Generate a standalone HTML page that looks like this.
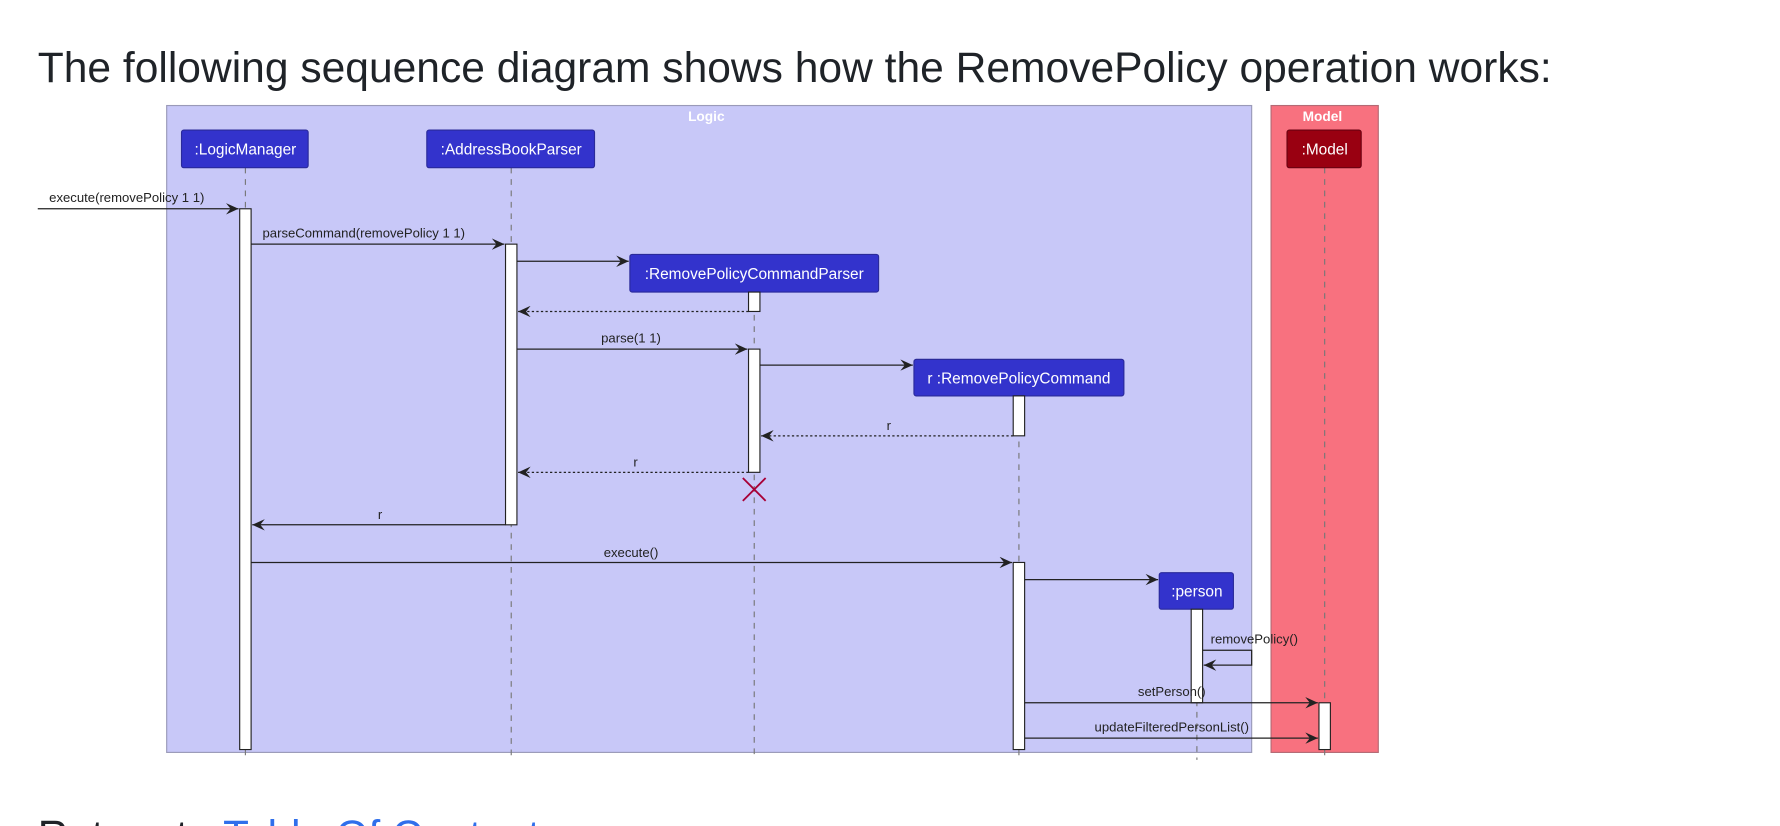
<!DOCTYPE html>
<html><head><meta charset="utf-8"><style>
html,body{margin:0;padding:0;background:#fff;width:1780px;height:826px;overflow:hidden}
svg{display:block}
.lbl{font-family:"Liberation Sans",sans-serif;font-size:11.5px;fill:#222}
.pt{font-family:"Liberation Sans",sans-serif;font-size:13.5px;fill:#fff}
.ll{stroke:#777;stroke-width:1;stroke-dasharray:5,5}
.act{fill:#fff;stroke:#222;stroke-width:1}
.m{stroke:#222;stroke-width:1.1;fill:none}
.d{stroke:#222;stroke-width:1.1;fill:none;stroke-dasharray:2,2}
</style></head><body>
<svg width="1780" height="826" viewBox="0 0 1560 724" xmlns="http://www.w3.org/2000/svg">
<defs>
<marker id="a" markerWidth="12" markerHeight="10" refX="11" refY="5" orient="auto" markerUnits="userSpaceOnUse">
<path d="M0,0 L11,5 L0,10 L4,5 Z" fill="#222"/></marker>
</defs>
<text x="33" y="72" font-family="Liberation Sans, sans-serif" font-size="37" fill="#1f2328" textLength="1327" lengthAdjust="spacingAndGlyphs">The following sequence diagram shows how the RemovePolicy operation works:</text>

<rect x="146" y="92.5" width="951" height="567" fill="#c8c8f8" stroke="#9a9ab8"/>
<text x="619" y="106" text-anchor="middle" font-family="Liberation Sans, sans-serif" font-size="12" font-weight="bold" fill="#fff">Logic</text>
<rect x="1114" y="92.5" width="94" height="567" fill="#f8717f" stroke="#b46a74"/>
<text x="1159" y="106" text-anchor="middle" font-family="Liberation Sans, sans-serif" font-size="12" font-weight="bold" fill="#fff">Model</text>

<!-- lifelines -->
<line class="ll" x1="215" y1="147" x2="215" y2="666"/>
<line class="ll" x1="448" y1="147" x2="448" y2="666"/>
<line class="ll" x1="661" y1="256" x2="661" y2="666"/>
<line class="ll" x1="893" y1="347" x2="893" y2="666"/>
<line class="ll" x1="1049" y1="534" x2="1049" y2="666"/>
<line class="ll" x1="1161" y1="147" x2="1161" y2="666"/>

<!-- participants -->
<rect x="159" y="114" width="111" height="33" rx="2" fill="#3333cc" stroke="#2a2a9a"/>
<text class="pt" x="215" y="135.5" text-anchor="middle">:LogicManager</text>
<rect x="374" y="114" width="147" height="33" rx="2" fill="#3333cc" stroke="#2a2a9a"/>
<text class="pt" x="448" y="135.5" text-anchor="middle">:AddressBookParser</text>
<rect x="552" y="223" width="218" height="33" rx="2" fill="#3333cc" stroke="#2a2a9a"/>
<text class="pt" x="661" y="244.5" text-anchor="middle">:RemovePolicyCommandParser</text>
<rect x="801" y="315" width="184" height="32" rx="2" fill="#3333cc" stroke="#2a2a9a"/>
<text class="pt" x="893" y="336" text-anchor="middle">r :RemovePolicyCommand</text>
<rect x="1016" y="502" width="65" height="32" rx="2" fill="#3333cc" stroke="#2a2a9a"/>
<text class="pt" x="1049" y="523" text-anchor="middle">:person</text>
<rect x="1128" y="114" width="65" height="33" rx="2" fill="#990011" stroke="#6a0010"/>
<text class="pt" x="1161" y="135.5" text-anchor="middle">:Model</text>

<!-- activations -->
<rect class="act" x="210" y="183" width="10" height="474"/>
<rect class="act" x="443" y="214" width="10" height="246"/>
<rect class="act" x="656" y="256" width="10" height="17"/>
<rect class="act" x="656" y="306" width="10" height="108"/>
<rect class="act" x="888" y="347" width="10" height="35"/>
<rect class="act" x="888" y="493" width="10" height="164"/>
<rect class="act" x="1044" y="534" width="10" height="82"/>
<rect class="act" x="1156" y="616" width="10" height="41"/>

<!-- messages -->
<line class="m" x1="33" y1="183" x2="209" y2="183" marker-end="url(#a)"/>
<text class="lbl" x="43" y="177">execute(removePolicy 1 1)</text>
<line class="m" x1="220" y1="214" x2="442" y2="214" marker-end="url(#a)"/>
<text class="lbl" x="230" y="208">parseCommand(removePolicy 1 1)</text>
<line class="m" x1="453" y1="229" x2="551" y2="229" marker-end="url(#a)"/>
<line class="d" x1="656" y1="273" x2="454" y2="273" marker-end="url(#a)"/>
<line class="m" x1="453" y1="306" x2="655" y2="306" marker-end="url(#a)"/>
<text class="lbl" x="553" y="300" text-anchor="middle">parse(1 1)</text>
<line class="m" x1="666" y1="320" x2="800" y2="320" marker-end="url(#a)"/>
<line class="d" x1="888" y1="382" x2="667" y2="382" marker-end="url(#a)"/>
<text class="lbl" x="779" y="377" text-anchor="middle">r</text>
<line class="d" x1="656" y1="414" x2="454" y2="414" marker-end="url(#a)"/>
<text class="lbl" x="557" y="409" text-anchor="middle">r</text>
<path d="M651,419 L671,439 M671,419 L651,439" stroke="#a80036" stroke-width="1.6"/>
<line class="m" x1="443" y1="460" x2="221" y2="460" marker-end="url(#a)"/>
<text class="lbl" x="333" y="455" text-anchor="middle">r</text>
<line class="m" x1="220" y1="493" x2="887" y2="493" marker-end="url(#a)"/>
<text class="lbl" x="553" y="488" text-anchor="middle">execute()</text>
<line class="m" x1="898" y1="508" x2="1015" y2="508" marker-end="url(#a)"/>
<path class="m" d="M1054,570 L1097,570 L1097,583 L1055,583" marker-end="url(#a)"/>
<text class="lbl" x="1061" y="564">removePolicy()</text>
<line class="m" x1="898" y1="616" x2="1155" y2="616" marker-end="url(#a)"/>
<text class="lbl" x="1027" y="610" text-anchor="middle">setPerson()</text>
<line class="m" x1="898" y1="647" x2="1155" y2="647" marker-end="url(#a)"/>
<text class="lbl" x="1027" y="641" text-anchor="middle">updateFilteredPersonList()</text>

<text x="33" y="745" font-family="Liberation Sans, sans-serif" font-size="37" fill="#1f2328">Return to <tspan fill="#2f6feb">Table Of Contents</tspan></text>
</svg>
</body></html>
